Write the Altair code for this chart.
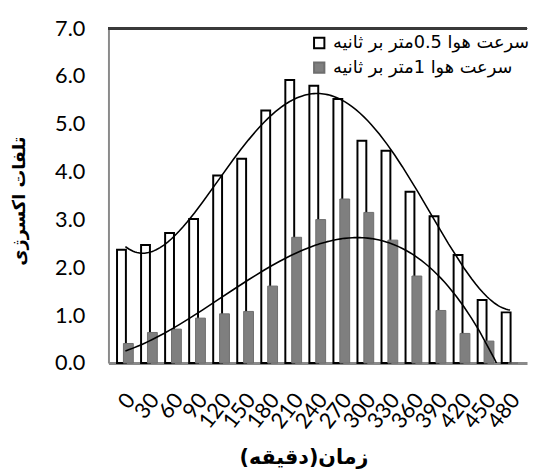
import altair as alt
import pandas as pd

minutes = [0, 30, 60, 90, 120, 150, 180, 210, 240, 270, 300, 330, 360, 390, 420, 450, 480]
loss_05 = [2.37, 2.47, 2.72, 3.01, 3.92, 4.27, 5.28, 5.92, 5.80, 5.52, 4.65, 4.44, 3.58, 3.07, 2.26, 1.32, 1.06]
loss_1 = [0.41, 0.64, 0.71, 0.94, 1.03, 1.08, 1.61, 2.63, 3.00, 3.43, 3.15, 2.57, 1.82, 1.10, 0.62, 0.46, 0.0]
label_05 = "سرعت هوا 0.5متر بر ثانیه"
label_1 = "سرعت هوا 1متر بر ثانیه"
y_ticks = [0, 1, 2, 3, 4, 5, 6, 7]
x_title = "زمان(دقیقه)"
y_title = "تلفات اکسرژی"

df = pd.DataFrame({"min": minutes, "a": loss_05, "b": loss_1})

xscale = alt.Scale(domain=[-15, 495], nice=False, zero=False)
yscale = alt.Scale(domain=[0, 7], nice=False)
fill_scale = alt.Scale(domain=[label_05, label_1], range=["white", "#7f7f7f"])
stroke_scale = alt.Scale(domain=[label_05, label_1], range=["black", "#6e6e6e"])

xaxis = alt.Axis(values=minutes, title=x_title, labelAngle=-52, labelAlign="right",
                 labelBaseline="middle", labelPadding=33, labelOffset=5, labelFontSize=22, labelFont="Lato",
                 labelOverlap=False, labelBound=False, labelFlush=False,
                 ticks=False, grid=False, domainColor="#8a8a8a", domainWidth=3,
                 titleFont="DejaVu Sans", titleFontSize=21, titleFontWeight="bold",
                 titleY=96, titleX=198, titleBaseline="middle", labelColor="black", titleColor="black")
yaxis = alt.Axis(values=y_ticks, format=".1f", title=y_title, ticks=False, grid=False,
                 labelFontSize=22, labelFont="Lato", labelPadding=24, labelColor="black",
                 domainColor="#8a8a8a", domainWidth=2,
                 titleFont="DejaVu Sans", titleFontSize=18, titleFontWeight="bold",
                 titleX=-81, titleY=175, titleColor="black")

legend = alt.Legend(title=None, orient="none", legendX=205, legendY=6, symbolType="square",
                    symbolSize=110, symbolStrokeWidth=2, labelFontSize=18, labelFont="DejaVu Sans",
                    labelColor="black", rowPadding=5, padding=0, labelOffset=5, labelLimit=0)

base = alt.Chart(df)

bars_a = base.transform_calculate(series=f"'{label_05}'").mark_bar(
    width=9, xOffset=-4, strokeWidth=2).encode(
    x=alt.X("min:Q", scale=xscale, axis=xaxis),
    y=alt.Y("a:Q", scale=yscale, axis=yaxis),
    fill=alt.Fill("series:N", scale=fill_scale, legend=legend),
    stroke=alt.Stroke("series:N", scale=stroke_scale, legend=legend),
)

bars_b = base.transform_calculate(series=f"'{label_1}'").mark_bar(
    width=10, xOffset=3, strokeWidth=1).encode(
    x=alt.X("min:Q", scale=xscale, axis=xaxis),
    y=alt.Y("b:Q", scale=yscale, axis=yaxis),
    fill=alt.Fill("series:N", scale=fill_scale, legend=legend),
    stroke=alt.Stroke("series:N", scale=stroke_scale, legend=legend),
)

trend_a = base.transform_regression("min", "a", method="poly", order=4).mark_line(
    color="black", strokeWidth=1.6, clip=True).encode(
    x=alt.X("min:Q", scale=xscale, axis=xaxis),
    y=alt.Y("a:Q", scale=yscale, axis=yaxis),
)

trend_b = base.transform_regression("min", "b", method="poly", order=3).mark_line(
    color="black", strokeWidth=1.6, clip=True).encode(
    x=alt.X("min:Q", scale=xscale, axis=xaxis),
    y=alt.Y("b:Q", scale=yscale, axis=yaxis),
)

top = base.mark_rule(color="#3a3a3a", strokeWidth=2).encode(y=alt.datum(7))

chart = alt.layer(bars_a, bars_b, trend_a, trend_b, top).properties(
    width=425, height=340, autosize="none",
    padding={"left": 102, "top": 17, "right": 2, "bottom": 105},
    background="white",
).configure_view(stroke=None)

chart.save("out.html", embed_options={"renderer": "svg", "actions": False})
